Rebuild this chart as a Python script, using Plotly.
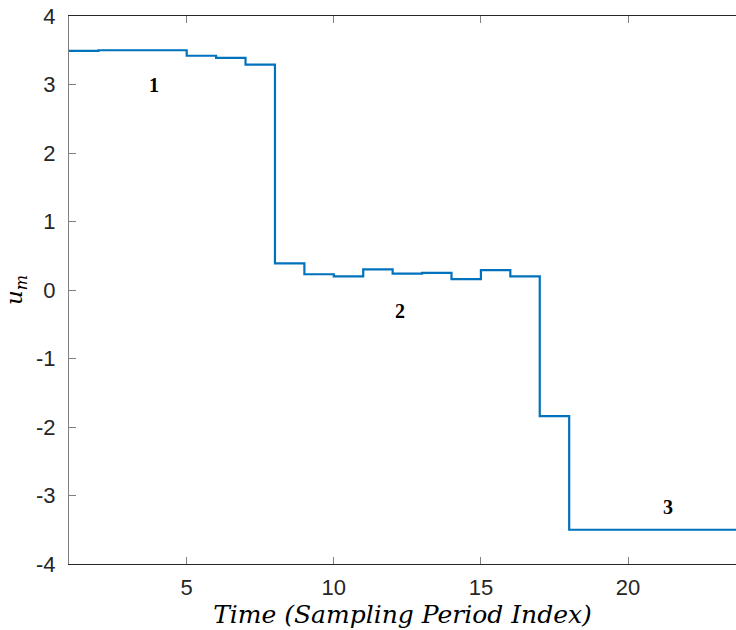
import plotly.graph_objects as go

time_idx = list(range(1, 25))
u_m = [3.49, 3.50, 3.50, 3.50, 3.42, 3.39, 3.29, 0.39, 0.23, 0.20, 0.30, 0.24,
       0.25, 0.16, 0.29, 0.20, -1.84, -3.50, -3.50, -3.50, -3.50, -3.50, -3.50, -3.50]
label_text = ["1", "2", "3"]
label_x = [3.9, 12.25, 21.35]
label_y = [3.0, -0.3, -3.17]
x_ticks = [5, 10, 15, 20]
y_ticks = [-4, -3, -2, -1, 0, 1, 2, 3, 4]
y_tick_text = ["-4", "-3", "-2", "-1", "0", "1", "2", "3", "4"]

fig = go.Figure()
fig.add_trace(go.Scatter(x=time_idx, y=u_m, mode="lines", line_shape="hv",
                         line=dict(color="#0072BD", width=2.2), showlegend=False))

for t, xx, yy in zip(label_text, label_x, label_y):
    fig.add_annotation(x=xx, y=yy, text=f"<b>{t}</b>", showarrow=False,
                       font=dict(family="Liberation Serif", size=20, color="black"))

axis_font = dict(family="Liberation Sans, Arial", size=22, color="#262626")
fig.update_layout(
    width=736, height=630,
    margin=dict(l=69, r=0, t=16, b=66),
    plot_bgcolor="white", paper_bgcolor="white",
    xaxis=dict(range=[1, 23.67], tickvals=x_ticks, ticks="inside", ticklen=7,
               tickcolor="#7f7f7f", showline=True, linecolor="#262626", linewidth=1,
               mirror="ticks", showgrid=False, zeroline=False, tickfont=axis_font,
               ticklabelstandoff=4,
               title=dict(text="<i>Time (Sampling Period Index)</i>", standoff=0,
                          font=dict(family="DejaVu Serif", size=25, color="black"))),
    yaxis=dict(range=[-4, 4], tickvals=y_ticks, ticktext=y_tick_text, ticks="inside",
               ticklen=7, tickcolor="#7f7f7f", showline=True, linecolor="#7f7f7f",
               linewidth=1, mirror=False, showgrid=False, zeroline=False,
               tickfont=axis_font, ticklabelstandoff=8,
               title=dict(text="<i>u</i><sub><i>m</i></sub>", standoff=6,
                          font=dict(family="DejaVu Serif", size=23, color="black"))),
)
fig.write_html("out.html")
